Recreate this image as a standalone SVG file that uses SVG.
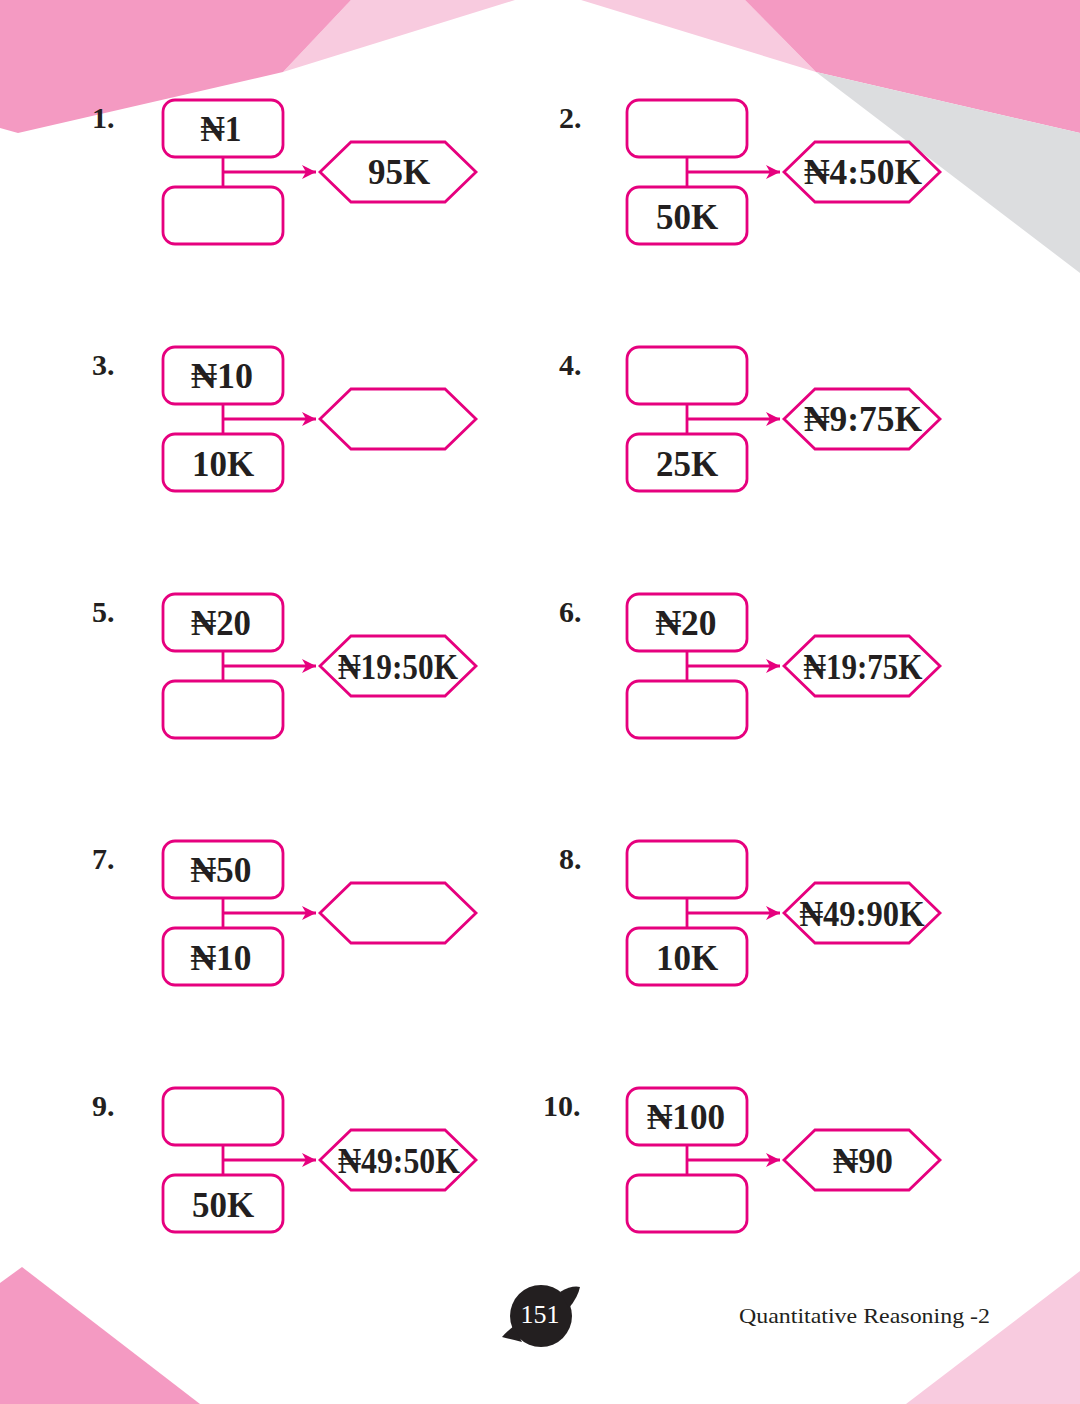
<svg xmlns="http://www.w3.org/2000/svg" width="1080" height="1404" viewBox="0 0 1080 1404">
<defs>
<style>
.box{fill:#fff;stroke:#e6007e;stroke-width:2.8}
.hex{fill:#fff;stroke:#e6007e;stroke-width:2.8;stroke-linejoin:miter}
.con{fill:none;stroke:#e6007e;stroke-width:2.8}
.t{font-family:"Liberation Serif","DejaVu Serif",serif;font-weight:bold;font-size:35px;fill:#231f20;text-anchor:middle}
.num{font-family:"Liberation Serif","DejaVu Serif",serif;font-weight:bold;font-size:30px;fill:#231f20}
</style>
<marker id="ah" markerUnits="userSpaceOnUse" markerWidth="16" markerHeight="16" refX="14" refY="7" orient="auto">
<path d="M0,0 L14,7 L0,14 L4,7 Z" fill="#e6007e"/>
</marker>
</defs>
<rect width="1080" height="1404" fill="#fff"/>
<g id="decor">
<polygon points="351,0 515,0 283,72" fill="#f8cbdf"/>
<polygon points="0,0 351,0 283,72 18,133 0,128" fill="#f49ac2"/>
<polygon points="581,0 745,0 816,72" fill="#f8cbdf"/>
<polygon points="745,0 1080,0 1080,133 816,72" fill="#f49ac2"/>
<polygon points="816,72 1080,133 1080,273" fill="#dcdddf"/>
<polygon points="0,1283 22,1267 200,1404 0,1404" fill="#f49ac2"/>
<polygon points="1080,1271 1080,1404 906,1404" fill="#f8cbdf"/>
</g>
<g id="connectors">
<path class="con" d="M223,157 V187 M223,172 H316" marker-end="url(#ah)"/>
<path class="con" d="M687,157 V187 M687,172 H780" marker-end="url(#ah)"/>
<path class="con" d="M223,404 V434 M223,419 H316" marker-end="url(#ah)"/>
<path class="con" d="M687,404 V434 M687,419 H780" marker-end="url(#ah)"/>
<path class="con" d="M223,651 V681 M223,666 H316" marker-end="url(#ah)"/>
<path class="con" d="M687,651 V681 M687,666 H780" marker-end="url(#ah)"/>
<path class="con" d="M223,898 V928 M223,913 H316" marker-end="url(#ah)"/>
<path class="con" d="M687,898 V928 M687,913 H780" marker-end="url(#ah)"/>
<path class="con" d="M223,1145 V1175 M223,1160 H316" marker-end="url(#ah)"/>
<path class="con" d="M687,1145 V1175 M687,1160 H780" marker-end="url(#ah)"/>
</g>
<g id="q1">
<text class="num" x="92" y="128">1.</text>
<rect class="box" x="163" y="100" width="120" height="57" rx="12"/>
<text class="t" x="221" y="141" textLength="41" lengthAdjust="spacingAndGlyphs">₦1</text>
<rect class="box" x="163" y="187" width="120" height="57" rx="12"/>
<polygon class="hex" points="320,172 351,142 445,142 476,172 445,202 351,202"/>
<text class="t" x="399" y="184">95K</text>
</g>
<g id="q2">
<text class="num" x="559" y="128">2.</text>
<rect class="box" x="627" y="100" width="120" height="57" rx="12"/>
<rect class="box" x="627" y="187" width="120" height="57" rx="12"/>
<text class="t" x="687" y="229">50K</text>
<polygon class="hex" points="784,172 815,142 909,142 940,172 909,202 815,202"/>
<text class="t" x="863" y="184" textLength="118" lengthAdjust="spacingAndGlyphs">₦4:50K</text>
</g>
<g id="q3">
<text class="num" x="92" y="375">3.</text>
<rect class="box" x="163" y="347" width="120" height="57" rx="12"/>
<text class="t" x="222" y="388" textLength="62" lengthAdjust="spacingAndGlyphs">₦10</text>
<rect class="box" x="163" y="434" width="120" height="57" rx="12"/>
<text class="t" x="223" y="476">10K</text>
<polygon class="hex" points="320,419 351,389 445,389 476,419 445,449 351,449"/>
</g>
<g id="q4">
<text class="num" x="559" y="375">4.</text>
<rect class="box" x="627" y="347" width="120" height="57" rx="12"/>
<rect class="box" x="627" y="434" width="120" height="57" rx="12"/>
<text class="t" x="687" y="476">25K</text>
<polygon class="hex" points="784,419 815,389 909,389 940,419 909,449 815,449"/>
<text class="t" x="863" y="431" textLength="118" lengthAdjust="spacingAndGlyphs">₦9:75K</text>
</g>
<g id="q5">
<text class="num" x="92" y="622">5.</text>
<rect class="box" x="163" y="594" width="120" height="57" rx="12"/>
<text class="t" x="221" y="635" textLength="60" lengthAdjust="spacingAndGlyphs">₦20</text>
<rect class="box" x="163" y="681" width="120" height="57" rx="12"/>
<polygon class="hex" points="320,666 351,636 445,636 476,666 445,696 351,696"/>
<text class="t" x="398" y="679" textLength="120" lengthAdjust="spacingAndGlyphs">₦19:50K</text>
</g>
<g id="q6">
<text class="num" x="559" y="622">6.</text>
<rect class="box" x="627" y="594" width="120" height="57" rx="12"/>
<text class="t" x="686" y="635" textLength="61" lengthAdjust="spacingAndGlyphs">₦20</text>
<rect class="box" x="627" y="681" width="120" height="57" rx="12"/>
<polygon class="hex" points="784,666 815,636 909,636 940,666 909,696 815,696"/>
<text class="t" x="863" y="679" textLength="119" lengthAdjust="spacingAndGlyphs">₦19:75K</text>
</g>
<g id="q7">
<text class="num" x="92" y="869">7.</text>
<rect class="box" x="163" y="841" width="120" height="57" rx="12"/>
<text class="t" x="221" y="882" textLength="61" lengthAdjust="spacingAndGlyphs">₦50</text>
<rect class="box" x="163" y="928" width="120" height="57" rx="12"/>
<text class="t" x="221" y="970" textLength="61" lengthAdjust="spacingAndGlyphs">₦10</text>
<polygon class="hex" points="320,913 351,883 445,883 476,913 445,943 351,943"/>
</g>
<g id="q8">
<text class="num" x="559" y="869">8.</text>
<rect class="box" x="627" y="841" width="120" height="57" rx="12"/>
<rect class="box" x="627" y="928" width="120" height="57" rx="12"/>
<text class="t" x="687" y="970">10K</text>
<polygon class="hex" points="784,913 815,883 909,883 940,913 909,943 815,943"/>
<text class="t" x="862" y="926" textLength="125" lengthAdjust="spacingAndGlyphs">₦49:90K</text>
</g>
<g id="q9">
<text class="num" x="92" y="1116">9.</text>
<rect class="box" x="163" y="1088" width="120" height="57" rx="12"/>
<rect class="box" x="163" y="1175" width="120" height="57" rx="12"/>
<text class="t" x="223" y="1217">50K</text>
<polygon class="hex" points="320,1160 351,1130 445,1130 476,1160 445,1190 351,1190"/>
<text class="t" x="399" y="1173" textLength="122" lengthAdjust="spacingAndGlyphs">₦49:50K</text>
</g>
<g id="q10">
<text class="num" x="543" y="1116">10.</text>
<rect class="box" x="627" y="1088" width="120" height="57" rx="12"/>
<text class="t" x="686" y="1129" textLength="78" lengthAdjust="spacingAndGlyphs">₦100</text>
<rect class="box" x="627" y="1175" width="120" height="57" rx="12"/>
<polygon class="hex" points="784,1160 815,1130 909,1130 940,1160 909,1190 815,1190"/>
<text class="t" x="863" y="1173" textLength="60" lengthAdjust="spacingAndGlyphs">₦90</text>
</g>
<g id="footer">
<circle cx="541" cy="1316" r="31" fill="#231f20"/>
<path d="M560,1292 Q572,1285 580,1287 Q578,1297 569,1308 Z" fill="#231f20"/>
<path d="M514,1326 Q505,1333 502,1337 Q509,1339 522,1342 Z" fill="#231f20"/>
<text x="540" y="1323" font-family="Liberation Serif, DejaVu Serif, serif" font-size="26" fill="#fff" text-anchor="middle" textLength="39" lengthAdjust="spacingAndGlyphs">151</text>
<text x="739" y="1323" font-family="Liberation Serif, DejaVu Serif, serif" font-size="22" fill="#231f20" textLength="251" lengthAdjust="spacingAndGlyphs">Quantitative Reasoning -2</text>
</g>
</svg>
